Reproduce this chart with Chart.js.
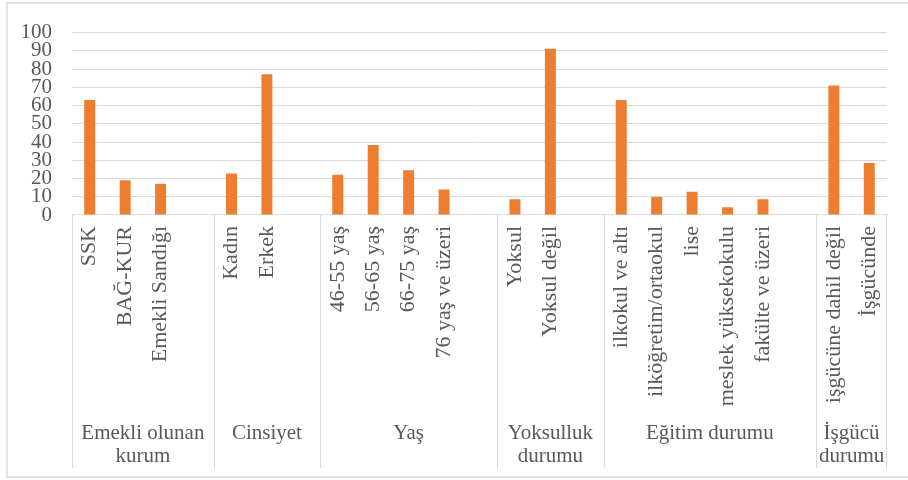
<!DOCTYPE html>
<html>
<head>
<meta charset="utf-8">
<script src="https://cdn.jsdelivr.net/npm/chart.js@4.4.1/dist/chart.umd.min.js"></script>
<style>
  html, body { margin: 0; padding: 0; background: #ffffff; }
  #wrap { position: relative; width: 908px; height: 480px; }
</style>
</head>
<body>
<div id="wrap"><canvas id="chart"></canvas></div>
<script>
// Kategoriler (her grubun sonunda Excel'deki gibi boş bir sütun var)
const categories = [
  'SSK', 'BAĞ-KUR', 'Emekli Sandığı', '',
  'Kadın', 'Erkek', '',
  '46-55 yaş', '56-65 yaş', '66-75 yaş', '76 yaş ve üzeri', '',
  'Yoksul', 'Yoksul değil', '',
  'ilkokul ve altı', 'ilköğretim/ortaokul', 'lise', 'meslek yüksekokulu', 'fakülte ve üzeri', '',
  'işgücüne dahil değil', 'İşgücünde'
];

const values = [
  63, 19, 17.2, null,
  22.8, 77.2, null,
  22, 38.4, 24.6, 14, null,
  8.6, 91.2, null,
  63, 9.9, 12.8, 4.3, 8.6, null,
  71, 28.5
];

// Grup etiketleri ve her grubun kapladığı sütun sayısı
const groupNames = [
  ['Emekli olunan', 'kurum'],
  ['Cinsiyet'],
  ['Yaş'],
  ['Yoksulluk', 'durumu'],
  ['Eğitim durumu'],
  ['İşgücü', 'durumu']
];
const groupSizes = [4, 3, 5, 3, 6, 2];

const colors = {
  bar: '#ED7D31',
  grid: '#D9D9D9',
  text: '#595959',
  frame: '#D9D9D9'
};

const fontFamily = "'Liberation Serif', 'Times New Roman', serif";

// Grup ayırıcı çizgileri ve grup başlıkları
const groupPlugin = {
  id: 'groupLabels',
  afterDraw(chart) {
    const ctx = chart.ctx;
    const x = chart.scales.x;
    const area = chart.chartArea;
    const slot = x.getPixelForValue(1) - x.getPixelForValue(0);
    const lineBottom = 468;

    ctx.save();
    ctx.strokeStyle = colors.grid;
    ctx.lineWidth = 1;
    ctx.fillStyle = colors.text;
    ctx.font = '21px ' + fontFamily;
    ctx.textAlign = 'center';
    ctx.textBaseline = 'middle';

    let start = 0;
    groupSizes.forEach((size, i) => {
      const left = x.getPixelForValue(start) - slot / 2;
      const right = x.getPixelForValue(start + size - 1) + slot / 2;

      ctx.beginPath();
      ctx.moveTo(Math.round(left) + 0.5, area.bottom);
      ctx.lineTo(Math.round(left) + 0.5, lineBottom);
      ctx.stroke();
      if (i === groupSizes.length - 1) {
        ctx.beginPath();
        ctx.moveTo(Math.round(right) - 0.5, area.bottom);
        ctx.lineTo(Math.round(right) - 0.5, lineBottom);
        ctx.stroke();
      }

      const cx = (left + right) / 2;
      groupNames[i].forEach((line, j) => {
        ctx.fillText(line, cx, 433 + j * 23);
      });
      start += size;
    });

    // dış çerçeve
    ctx.strokeStyle = colors.frame;
    ctx.lineWidth = 1.5;
    ctx.strokeRect(7, 3, 920, 474);
    ctx.restore();
  }
};

new Chart(document.getElementById('chart'), {
  type: 'bar',
  data: {
    labels: categories,
    datasets: [{
      data: values,
      backgroundColor: colors.bar,
      borderWidth: 0,
      categoryPercentage: 1,
      barPercentage: 0.31
    }]
  },
  options: {
    responsive: true,
    maintainAspectRatio: false,
    animation: false,
    layout: {
      padding: { top: 27, right: 21, bottom: 0, left: 0 }
    },
    plugins: {
      legend: { display: false },
      tooltip: { enabled: false }
    },
    scales: {
      x: {
        grid: { display: false, drawTicks: false },
        border: { display: true, color: colors.grid, width: 1 },
        ticks: {
          color: colors.text,
          autoSkip: false,
          maxRotation: 90,
          minRotation: 90,
          padding: 11,
          font: { family: fontFamily, size: 22 }
        },
        afterFit(scale) {
          scale.height = 265;
        }
      },
      y: {
        min: 0,
        max: 100,
        grid: { color: colors.grid, lineWidth: 1, drawTicks: false },
        border: { display: false },
        ticks: {
          stepSize: 10,
          autoSkip: false,
          color: colors.text,
          padding: 20,
          font: { family: fontFamily, size: 21 }
        },
        afterFit(scale) {
          scale.width = 72;
        }
      }
    }
  },
  plugins: [groupPlugin]
});
</script>
</body>
</html>
